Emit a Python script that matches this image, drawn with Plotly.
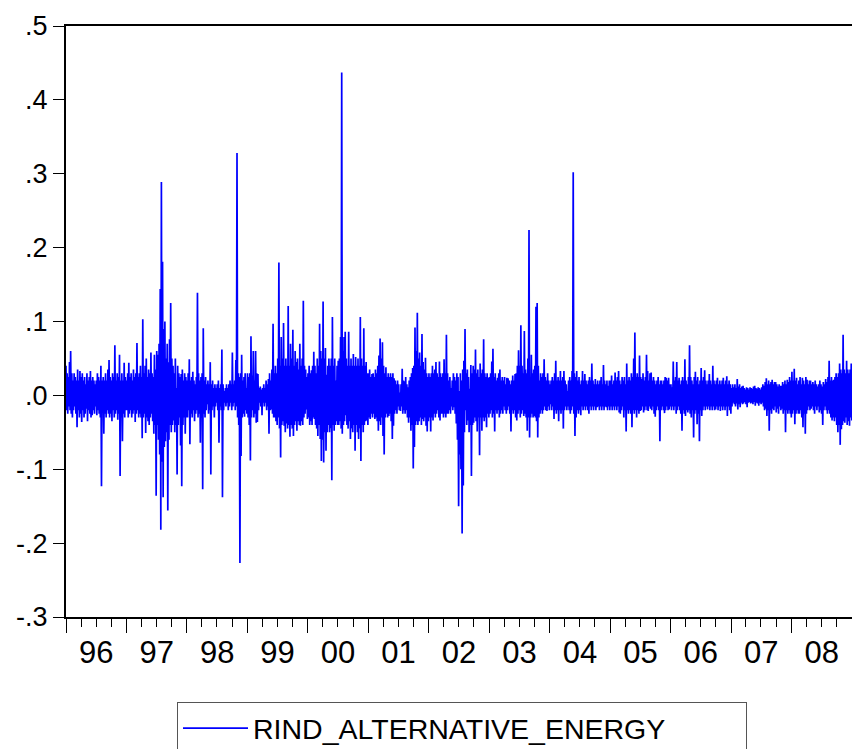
import numpy as np
import pandas as pd
import plotly.graph_objects as go

# Weekly high / low of the daily return series, in percent
hi_1996 = [4, 3, 2.5, 4.5, 6, 3, 2, 3, 2.5, 2, 3.5, 2, 3.3,
           2.5, 3, 2, 2.5, 1.5, 3, 2, 2.5, 3.3, 2, 2.5, 2, 1.5,
           2, 3, 2.5, 2, 4, 2, 2.5, 2, 3, 2, 3.5, 4.8, 2.5,
           2, 3, 2.5, 6.8, 2, 3, 2.5, 5.5, 2, 3, 2, 4.4, 2.5]
lo_1996 = [-2, -2.5, -1.5, -2, -2.5, -3, -2, -1.5, -2.5, -4.3, -2, -3, -2.5,
           -3.6, -2, -3, -2.5, -1.8, -3.5, -2, -2.5, -3, -2.7, -2, -2.5, -1.5,
           -2.7, -2, -2.5, -3, -12.3, -2, -5.2, -2.5, -3, -2, -2.5, -3, -2.5,
           -3.5, -2, -3, -2.5, -2, -3.3, -2.5, -10.9, -3, -6.2, -2.5, -3, -2]
hi_1997 = [2, 3, 4.4, 2.5, 3, 2, 3.5, 2.5, 3, 7.1, 2.5, 3, 4,
           2.5, 10.3, 3, 4, 5, 2.5, 3.5, 3, 5.8, 3, 2.5, 5.5, 3.5,
           6, 5.5, 7, 14.4, 28.9, 18.1, 9, 10, 5, 7, 4.5, 7.6, 12.5,
           5, 4, 3, 5, 1, 4, 3, 2.5, 2.9, 3.5, 2, 3, 2.5]
lo_1997 = [-2, -3, -2.5, -2, -3, -2.5, -2, -3.6, -2.5, -2, -3, -2.5, -3,
           -5.8, -3, -2.5, -5.1, -3, -3.5, -4, -3, -2.5, -3.5, -5.2, -4, -13.6,
           -4, -6, -8, -18.2, -9, -13.8, -7, -6.2, -5, -15.6, -6, -4, -5,
           -4, -3.4, -5, -4, -10.7, -4, -3, -6.8, -12.3, -4, -3, -5.2, -3]
hi_1998 = [2, 3, 4.9, 2, 2.5, 3.2, 2, 1.5, 2.5, 13.9, 3, 2, 2.5,
           3, 9.1, 2, 2.5, 1.5, 2, 1.5, 4.5, 1.5, 2, 1, 1.5, 1,
           1.5, 2, 1, 1.5, 6.2, 1.5, 0.6, 1, 1.5, 1, 1.5, 2, 1.5,
           5.8, 1.5, 2, 4.8, 32.8, 3, 2.5, 3, 5.5, 2, 2.5, 3, 1]
lo_1998 = [-3, -2, -6.6, -2.5, -3, -2, -3.5, -2.5, -2, -3, -2.5, -6.4, -3,
           -12.7, -2.5, -3, -2, -1.2, -2.5, -2, -10.7, -2, -1.5, -3, -1.5, -1,
           -2, -6.4, -1.5, -2, -13.8, -2, -1, -1.5, -1, -2, -1.5, -1, -2,
           -1.5, -1, -2, -1.5, -3, -4, -22.7, -8.2, -3, -2.5, -2.9, -2, -2.5]
hi_1999 = [3, 2.5, 3, 8, 2.7, 6, 2, 6, 3, 2.9, 1, 1.2, 0.8,
           1, 1.5, 1, 2, 1.5, 2.2, 3, 2, 3.5, 9.7, 3, 4, 3,
           5, 18, 4, 7.9, 5, 9.8, 4, 5, 4, 12.1, 4, 7, 5,
           8.9, 4, 6, 4.5, 5, 3.5, 7, 4, 5, 12.8, 4, 3.5, 2.5]
lo_1999 = [-3, -4, -8.8, -3, -2, -3, -2.5, -3.7, -3.6, -2, -1, -1.5, -2.7,
           -1, -1.5, -1, -2, -1.5, -5.2, -2, -1.9, -2.5, -3, -3, -3.5, -4,
           -3, -4.5, -8.4, -4, -3.5, -4.1, -5, -3.8, -4.5, -4, -5.6, -4, -4.5,
           -5.5, -4, -3.5, -4.8, -3.5, -4, -4.1, -3.5, -4, -3, -2.5, -1.9, -3.2]
hi_2000 = [3, 4, 3, 3.4, 4, 5.9, 4, 3, 5, 4, 9.7, 6, 5,
           12.7, 5, 6.4, 2.8, 4, 5, 4, 5, 10.6, 4, 5, 2, 4,
           4.7, 5, 7.9, 43.7, 6, 7.9, 8.6, 5, 4, 8.6, 4, 5, 4,
           5.6, 4, 5.2, 4, 5, 4, 10.6, 5, 4, 9.1, 4, 4.5, 3]
lo_2000 = [-3, -4, -3.5, -4, -3, -3.2, -4, -4.5, -5.5, -4, -5.9, -8.9, -6,
           -9.1, -5, -7.5, -5, -4, -5, -4.5, -11.5, -4, -4.8, -4, -3.5, -4,
           -4, -3.5, -4.5, -5.2, -4, -3.5, -2.7, -4, -4.5, -3.5, -5.9, -4.5, -5,
           -4, -7.5, -4, -5, -5.9, -4.5, -8.9, -4, -5, -4, -3.5, -3.4, -4]
hi_2001 = [3, 3.5, 2.5, 2.9, 3, 2.5, 3.5, 3, 4, 5.4, 7.7, 5, 7.2,
           4, 3, 3.8, 2.5, 3, 2.5, 3, 2.5, 3, 2.3, 2, 1.5, 2,
           1.5, 0.4, 1.5, 3.6, 2, 1.9, 2.5, 1.5, 1.1, 2, 2.5, 3, 3.7,
           4, 9.2, 6, 11.2, 5, 5.8, 4, 8.3, 4.5, 3.5, 5.1, 3, 2.5]
lo_2001 = [-3, -3.2, -2.5, -3, -2.5, -3.2, -3, -3.5, -4.8, -3.5, -4, -3, -5.5,
           -8, -3, -2.5, -3, -2.8, -2.5, -3.5, -5.9, -4.1, -2.5, -2, -2.5, -1.5,
           -2, -2.1, -1.5, -2.5, -2, -2.5, -2, -3, -3.7, -3, -4.8, -4, -9.9,
           -7, -4, -3.5, -4, -3.5, -3, -4, -3.2, -3.5, -3, -4.1, -4.9, -3.5]
hi_2002 = [3, 2.5, 3, 4, 3, 3.5, 4.5, 3, 2.5, 4.6, 3, 2.5, 3,
           4.9, 3, 8.2, 3, 2, 2.5, 1, 2, 3, 2.5, 2, 3, 2.5,
           0.6, 3, 2, 3.5, 4.7, 9, 3, 3.5, 2.5, 0.9, 4.1, 3, 4,
           3.5, 6.2, 3, 3.5, 2.5, 4.3, 3, 3.5, 7.6, 3, 2.5, 3, 2.4]
lo_2002 = [-3, -4.9, -3, -3.4, -2.5, -3, -2.5, -2, -3, -3.4, -2.5, -2.5, -3,
           -2.5, -3, -2.5, -2.5, -2, -2.5, -1.5, -2, -1.6, -2.5, -3.8, -6, -15,
           -8, -10, -18.7, -12.2, -5, -2, -4, -3.4, -5, -4, -10.9, -4, -3.7,
           -3, -3.5, -4.9, -3, -8.1, -3, -4.8, -3, -3.5, -3, -4.3, -2.5, -3]
hi_2003 = [2.5, 3, 4.6, 6.3, 2.5, 3, 2, 2.4, 3, 3.5, 2, 2.5, 2,
           2.5, 1.5, 2.4, 2.3, 2, 1.5, 2, 2.7, 2, 2.9, 3, 4, 6.1,
           4, 9.5, 4, 3, 8.7, 3.5, 3, 5, 22.4, 2.4, 5.5, 3, 3.5,
           4, 12, 12.5, 4, 2, 3, 2.5, 3, 4.9, 2.5, 2, 3, 2]
lo_2003 = [-2.5, -2, -3, -2.5, -4.9, -2, -2.5, -2, -3, -2.5, -2, -2.5, -1.5,
           -2, -2.5, -2, -1.5, -2.5, -4.9, -2, -2.5, -2, -3, -3.4, -2.5, -2,
           -3, -2.5, -2, -2.8, -2.5, -3, -4.8, -3, -5.7, -3, -2.5, -3, -2.8,
           -3, -3.5, -5.7, -3, -2.5, -2, -2.5, -2, -1.5, -2, -2.1, -1.5, -2]
hi_2004 = [1.5, 2, 2.5, 2, 3, 4.7, 2, 2.5, 2, 3.3, 2, 2.5, 3.3,
           2, 1.5, 0.6, 2, 2.5, 2, 3.3, 30.2, 3, 2.5, 3.3, 2, 2.5,
           1.5, 2, 3.3, 2, 2.9, 2, 1.5, 2, 2.5, 2, 4.3, 2, 1.5,
           2.2, 1.5, 2, 1.5, 2, 2.5, 1.5, 4.1, 2, 1.5, 2, 1.3, 2]
lo_2004 = [-1.2, -2, -1.5, -3.2, -2, -2.5, -2, -3.5, -2, -2.5, -2, -4.5, -2,
           -1.5, -2, -1.5, -2, -2.5, -2, -1.5, -2.5, -5.5, -3, -2, -2.5, -2,
           -2.7, -1.5, -2, -1.5, -2, -1.5, -2, -2.5, -1.5, -2, -1.5, -2, -1.5,
           -2, -1.6, -1.5, -2, -1.5, -2, -1.5, -2, -1.5, -1.6, -2, -1.5, -2]
hi_2005 = [2, 2.7, 1.5, 2, 3.1, 2, 2.5, 3.3, 2, 1.5, 2.5, 2, 2.5,
           1.5, 4.3, 2, 2.5, 2, 3, 2.5, 5, 8.5, 2.5, 3, 2.5, 5.4,
           2.5, 2.2, 3, 2, 2.5, 5.5, 3.3, 2, 3, 3.1, 2, 2.5, 2,
           1.5, 2, 2.5, 1.5, 2, 2, 1.5, 2, 2.5, 2.4, 2, 2.4, 1.5]
lo_2005 = [-1.5, -2, -1.5, -2, -1.5, -2, -1.5, -2.3, -2.5, -2, -1.5, -3, -2,
           -4.9, -2, -2.5, -2, -2.5, -4.3, -2, -2.5, -2, -3, -2, -2.5, -2.1,
           -2, -1.5, -2.3, -2, -1.5, -2, -2.1, -1.5, -1.8, -2, -1.5, -2.5, -2.9,
           -2, -1.5, -2, -6.2, -2, -1.5, -2, -2.4, -2, -1.5, -2, -1.9, -1.5]
hi_2006 = [1.5, 1.1, 4.6, 2, 2.5, 4.5, 2, 2.4, 1.5, 2, 2.5, 2, 4.9,
           2, 1.5, 2.5, 6.8, 2.5, 2, 1.5, 2.5, 3.2, 2, 2.5, 1.5, 2,
           3.7, 2, 2.5, 3.4, 2, 1.5, 2, 2.9, 2, 1.5, 4, 2, 1.5,
           2, 2.4, 1.5, 2, 1.5, 2, 2.4, 1.5, 2, 2.6, 1.5, 2, 1.5]
lo_2006 = [-2, -1.5, -2, -1.5, -2.5, -2, -1.5, -2, -2.5, -4.8, -2, -2.5, -2.8,
           -2, -2.3, -2, -2.5, -3, -2, -5.7, -2.5, -2, -3.9, -2.5, -6.2, -2,
           -2.8, -2, -1.5, -2, -1.5, -1.9, -1.5, -2, -1.5, -2, -1.5, -2, -1.9,
           -1.5, -2, -1.5, -2.1, -1.5, -2, -1.5, -2, -1.5, -2.8, -1.5, -2, -2.5]
hi_2007 = [1, 1.5, 1.1, 1.5, 1, 2.2, 1.2, 1.5, 1, 1.2, 1.3, 1, 0.8,
           1.1, 1, 0.8, 1.1, 1, 0.9, 1.2, 1.3, 1, 0.9, 1.1, 1, 0.8,
           1.1, 1.5, 1.3, 1.8, 2.3, 1.5, 2, 1.5, 1.8, 2.1, 1.5, 1.8, 1.8,
           1.5, 1.2, 1.5, 1.3, 1.3, 1.8, 1.5, 2, 1.5, 2.1, 1.8, 2.5, 2]
lo_2007 = [-1.5, -1, -1.2, -1.5, -1.1, -1.9, -1.2, -1.6, -1, -1.2, -1.1, -0.9, -1.2,
           -1.6, -1, -0.9, -1.1, -1, -1.2, -0.9, -1.4, -1, -1.1, -1.4, -1, -1.2,
           -1, -1.5, -2, -1.8, -2.8, -2, -4.8, -2, -2.5, -1.8, -2, -1.5, -2.3,
           -1.8, -2.5, -1.5, -2, -1.8, -2.5, -2, -5, -2, -2.5, -2, -2.5, -3]
hi_2008 = [3.2, 2, 3.6, 2, 2.4, 1.5, 2, 2.5, 1.5, 2.4, 2, 1.5, 2.5,
           2.1, 1.5, 2, 2, 1.5, 1.8, 1.5, 2, 1.5, 1.2, 1.5, 2, 1.5,
           1.2, 1.8, 1.5, 2.2, 1.8, 2.5, 4.7, 2, 2.5, 2, 2.1, 2.5, 3,
           2.5, 3, 4.3, 3.5, 3, 8.2, 3.5, 3, 4.7, 3.5, 3, 3.5, 4.3]
lo_2008 = [-2.5, -2, -3.9, -2.5, -2, -2.5, -2.5, -2, -3, -4.3, -2.5, -5.2, -2.5,
           -2, -1.5, -2, -1.8, -1.5, -2, -2.5, -1.5, -2, -1.5, -2.3, -2, -2.5,
           -4, -2, -1.5, -2, -2.5, -2, -2.5, -3, -3.4, -3, -3.5, -3, -4,
           -5, -4, -6.7, -4.6, -4, -3.5, -3.7, -3, -4, -3.5, -4.1, -3, -3.4]

weekly_high = [hi_1996, hi_1997, hi_1998, hi_1999, hi_2000, hi_2001, hi_2002,
               hi_2003, hi_2004, hi_2005, hi_2006, hi_2007, hi_2008]
weekly_low = [lo_1996, lo_1997, lo_1998, lo_1999, lo_2000, lo_2001, lo_2002,
              lo_2003, lo_2004, lo_2005, lo_2006, lo_2007, lo_2008]

y_tick_vals = [-0.3, -0.2, -0.1, 0.0, 0.1, 0.2, 0.3, 0.4, 0.5]
y_tick_text = ["-.3", "-.2", "-.1", ".0", ".1", ".2", ".3", ".4", ".5"]
series_name = "RIND_ALTERNATIVE_ENERGY"

values = []
for hs, ls in zip(weekly_high, weekly_low):
    for h, l in zip(hs, ls):
        values.append(h / 100.0)
        values.append(l / 100.0)
values = np.array(values)
dates = pd.date_range("1996-01-01", "2008-12-31", periods=len(values))

fig = go.Figure()
fig.add_trace(go.Scatter(
    x=dates, y=values, mode="lines", name=series_name,
    line=dict(color="#0000FF", width=1.7),
))

W, H = 852, 749
fig.update_layout(
    width=W, height=H,
    margin=dict(l=66, r=0, t=26, b=132, pad=0, autoexpand=False),
    paper_bgcolor="white", plot_bgcolor="white",
    font=dict(family="Liberation Sans, Arial, sans-serif", color="black"),
    showlegend=True,
    legend=dict(
        xref="container", yref="container",
        x=177 / W, y=1 - 702 / H, xanchor="left", yanchor="top",
        orientation="h", entrywidth=488, entrywidthmode="pixels",
        bordercolor="#555555", borderwidth=1, bgcolor="white",
        font=dict(size=28.5, color="black"), itemwidth=65,
    ),
)
fig.update_xaxes(
    type="date", range=["1996-01-01", "2009-01-01"],
    tick0="1996-01-01", dtick="M12", tickformat="%y", ticklabelmode="period",
    tickangle=0, ticklabelstandoff=-7,
    ticks="outside", ticklen=14, tickwidth=1, tickcolor="black",
    showline=True, linewidth=2, linecolor="black", mirror=True,
    showgrid=False, zeroline=False,
    tickfont=dict(size=31, color="black"),
    minor=dict(dtick="M3", tick0="1996-01-01", ticks="outside", ticklen=8,
               tickwidth=1, tickcolor="black", showgrid=False),
)
fig.update_yaxes(
    range=[-0.3, 0.5], tickvals=y_tick_vals, ticktext=y_tick_text,
    ticks="outside", ticklen=11, tickwidth=1, tickcolor="black",
    showline=True, linewidth=2, linecolor="black", mirror=False,
    showgrid=False, zeroline=False,
    tickfont=dict(size=27, color="black"),
)

fig.write_html("out.html")
